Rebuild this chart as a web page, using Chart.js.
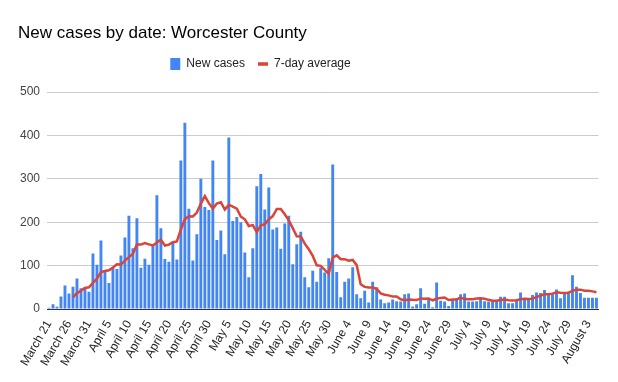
<!DOCTYPE html>
<html>
<head>
<meta charset="utf-8">
<script src="https://cdn.jsdelivr.net/npm/chart.js@4.4.1/dist/chart.umd.min.js"></script>
<style>
  html, body { margin: 0; padding: 0; background: #fff; }
  canvas { display: block; }
</style>
</head>
<body>
<canvas id="c" width="618" height="382"></canvas>
<script>
// ---- data ----
const startMonth = 2; // March (0-based)
const startDay = 21;
const monthNames = ["January","February","March","April","May","June","July","August","September","October","November","December"];

const newCases = [
  3, 11, 5, 29, 54, 36, 51, 70, 48, 50,
  40, 128, 102, 158, 86, 60, 96, 92, 123, 165,
  215, 140, 209, 95, 116, 102, 148, 262, 186, 115,
  109, 155, 114, 342, 429, 231, 112, 172, 300, 235,
  228, 342, 159, 181, 126, 395, 203, 212, 200, 130,
  73, 140, 283, 311, 229, 280, 183, 188, 139, 197,
  215, 103, 149, 178, 73, 50, 88, 63, 95, 84,
  117, 333, 85, 27, 63, 70, 96, 34, 25, 42,
  15, 63, 50, 22, 13, 15, 22, 18, 17, 34,
  36, 6, 11, 48, 12, 24, 4, 61, 19, 17,
  7, 22, 25, 34, 36, 17, 17, 18, 25, 18,
  17, 21, 18, 28, 28, 13, 13, 21, 38, 25,
  25, 32, 38, 37, 44, 36, 36, 45, 25, 36,
  40, 78, 51, 37, 26, 26, 26, 26
];

const sevenDayAverage = [
  null, null, null, null, null, null, 27, 36.6, 41.9, 48.3,
  49.9, 60.4, 69.9, 85.1, 87.4, 89.1, 95.7, 103.1, 102.4, 111.4,
  119.6, 127.3, 148.6, 148.4, 151.9, 148.9, 146.4, 153.1, 159.7, 146.3,
  148.3, 153.9, 155.6, 183.3, 207.1, 213.6, 213.1, 222.1, 242.9, 260.1,
  243.9, 231.4, 243, 246, 229, 240, 236, 231, 213, 206.7,
  191.3, 193.3, 177.3, 192.7, 195.1, 206.6, 214.1, 230.6, 230.4, 218.1,
  204.4, 186.4, 167.7, 167, 150.6, 137.9, 122.3, 100.6, 99.4, 90.1,
  81.4, 118.6, 123.6, 114.9, 114.9, 111.3, 113, 101.1, 57.1, 51,
  49.3, 49.3, 46.4, 35.9, 32.9, 31.4, 28.6, 29, 22.4, 20.1,
  22.1, 21.1, 20.6, 24.3, 23.4, 24.4, 20.1, 23.7, 25.6, 26.4,
  20.6, 22, 22.1, 26.4, 22.9, 22.6, 22.6, 24.1, 24.6, 23.6,
  21.1, 19, 19.1, 20.7, 22.1, 20.4, 19.7, 20.3, 22.7, 23.7,
  23.3, 23.9, 27.4, 30.9, 34.1, 33.9, 35.4, 38.3, 37.3, 37,
  37.4, 42.3, 44.4, 44.6, 41.9, 42, 40.6, 38.6
];

const tickLabels = [
  "March 21","March 26","March 31","April 5","April 10","April 15","April 20",
  "April 25","April 30","May 5","May 10","May 15","May 20","May 25","May 30",
  "June 4","June 9","June 14","June 19","June 24","June 29","July 4","July 9",
  "July 14","July 19","July 24","July 29","August 3"
];

// category labels: consecutive dates, one per bar
const categories = [];
{
  const d = new Date(2020, startMonth, startDay);
  for (let i = 0; i < newCases.length; i++) {
    categories.push(monthNames[d.getMonth()] + " " + d.getDate());
    d.setDate(d.getDate() + 1);
  }
}

const FONT = '"Liberation Sans", Arial, Helvetica, sans-serif';
const BLUE = '#4285F4';
const RED = '#DB4437';

const layoutTweaks = {
  id: 'layoutTweaks',
  afterLayout(chart) {
    const lg = chart.legend;
    if (lg) {
      lg.left -= 48; lg.right -= 48;
      lg.top -= 12; lg.bottom -= 12;
    }
  }
};

new Chart(document.getElementById('c'), {
  type: 'bar',
  data: {
    labels: categories,
    datasets: [
      {
        label: 'New cases',
        data: newCases,
        backgroundColor: BLUE,
        borderWidth: 0,
        barPercentage: 0.72,
        categoryPercentage: 1.0,
        order: 2
      },
      {
        type: 'line',
        label: '7-day average',
        data: sevenDayAverage,
        borderColor: RED,
        backgroundColor: RED,
        borderWidth: 2.5,
        pointRadius: 0,
        tension: 0,
        spanGaps: false,
        order: 1
      }
    ]
  },
  options: {
    responsive: false,
    animation: false,
    events: [],
    layout: { padding: { left: 18, right: 19, top: 0, bottom: 0 } },
    plugins: {
      title: {
        display: true,
        text: 'New cases by date: Worcester County',
        align: 'start',
        color: '#000',
        font: { family: FONT, size: 17, weight: 'normal' },
        padding: { top: 23, bottom: 13.6 }
      },
      legend: {
        display: true,
        position: 'top',
        align: 'center',
        labels: {
          usePointStyle: true,
          pointStyleWidth: 10,
          boxHeight: 12,
          padding: 13,
          color: '#222',
          font: { family: FONT, size: 12 },
          sort: (a, b) => a.datasetIndex - b.datasetIndex,
          generateLabels(chart) {
            const items = Chart.defaults.plugins.legend.labels.generateLabels(chart);
            items.forEach(it => {
              if (it.datasetIndex === 1) {
                it.pointStyle = 'line';
                it.lineWidth = 3.5;
                it.strokeStyle = RED;
              } else {
                it.pointStyle = 'rect';
                it.lineWidth = 0;
                it.fillStyle = BLUE;
              }
            });
            return items;
          }
        }
      },
      tooltip: { enabled: false }
    },
    scales: {
      x: {
        offset: true,
        grid: { display: false, drawTicks: false },
        border: { display: true, color: '#333', width: 1 },
        ticks: {
          autoSkip: false,
          maxRotation: 60,
          minRotation: 60,
          padding: 9,
          color: '#222',
          font: { family: FONT, size: 12 },
          callback: function (value) {
            const l = this.getLabelForValue(value);
            return tickLabels.includes(l) ? l : '';
          }
        },
        afterFit(scale) { scale.height = 73; }
      },
      y: {
        min: 0,
        max: 500,
        grid: {
          drawTicks: false,
          color: ctx => (ctx.tick && ctx.tick.value === 0) ? '#333' : '#cccccc',
          lineWidth: 1
        },
        border: { display: false },
        ticks: {
          stepSize: 100,
          padding: 7,
          color: '#444',
          font: { family: FONT, size: 12 }
        },
        afterFit(scale) { scale.width = 29; }
      }
    }
  },
  plugins: [layoutTweaks]
});
</script>
</body>
</html>
